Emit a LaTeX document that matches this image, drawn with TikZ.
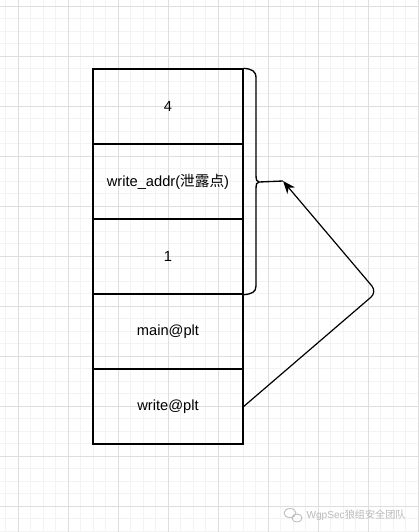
\documentclass[tikz,border=0pt]{standalone}
\usepackage{fontspec}
\setmainfont{Liberation Sans}
\newfontfamily\cjk{Noto Sans CJK SC}
\usetikzlibrary{arrows.meta}
\definecolor{gridmajor}{RGB}{222,222,222}
\definecolor{gridminor}{RGB}{243,243,243}
\definecolor{markgray}{RGB}{185,185,185}
\tikzset{every picture/.style={line width=0.75pt}}

\begin{document}
\begin{tikzpicture}[x=0.75pt,y=0.75pt,yscale=-1,xscale=1,
  cell/.style={draw, line width=1pt, minimum width=112.5pt, minimum height=56.25pt, inner sep=0pt, font=\fontsize{11}{13}\selectfont},
  link/.style={line width=0.9pt, -{Stealth[length=9.5pt,width=7.5pt,inset=3pt]}, rounded corners=6pt}]
\useasboundingbox (0,0) rectangle (418,532);
\fill[white] (0,0) rectangle (418,532);

%Grid
\foreach \gx in {5.5,18,...,418} \draw[gridminor] (\gx,0) -- (\gx,532);
\foreach \gy in {6,18.5,...,532} \draw[gridminor] (0,\gy) -- (418,\gy);
\foreach \gx in {18,68,...,418} \draw[gridmajor] (\gx,0) -- (\gx,532);
\foreach \gy in {6,56,...,532} \draw[gridmajor] (0,\gy) -- (418,\gy);

%Stack cells
\node[cell] (four) at (168,106.5) {4};
\node[cell] (addr) at (168,181.5) {write\_addr({\cjk 泄露点})};
\node[cell] (one) at (168,256.5) {1};
\node[cell] (mplt) at (168,331.5) {main@plt};
\node[cell] (wplt) at (168,406.5) {write@plt};

%Curly bracket
\coordinate (tip) at (259,182);
\coordinate (hit) at (283,181);
\draw[line width=1pt] (four.north east) .. controls (252,69) and (256,71) .. (256,78) -- (256,175) .. controls (256,180) and (257,182) .. (tip);
\draw[line width=1pt] (tip) .. controls (257,182) and (256,184) .. (256,189) -- (256,286) .. controls (256,292) and (252,294) .. (one.south east);
\draw[line width=1pt] (tip) -- (hit);

%Connector
\draw[link] (wplt.east) -- (377,292) -- (hit);

% Watermark
\draw[markgray, line width=0.6pt] (290,513) ellipse (6 and 4.5);
\draw[markgray, line width=0.6pt] (297,518) ellipse (5 and 4);
\node[anchor=west, inner sep=0pt, text=markgray, font=\fontsize{7.6}{9}\selectfont] (mark) at (306,515) {WgpSec{\cjk 狼组安全团队}};

\end{tikzpicture}
\end{document}
